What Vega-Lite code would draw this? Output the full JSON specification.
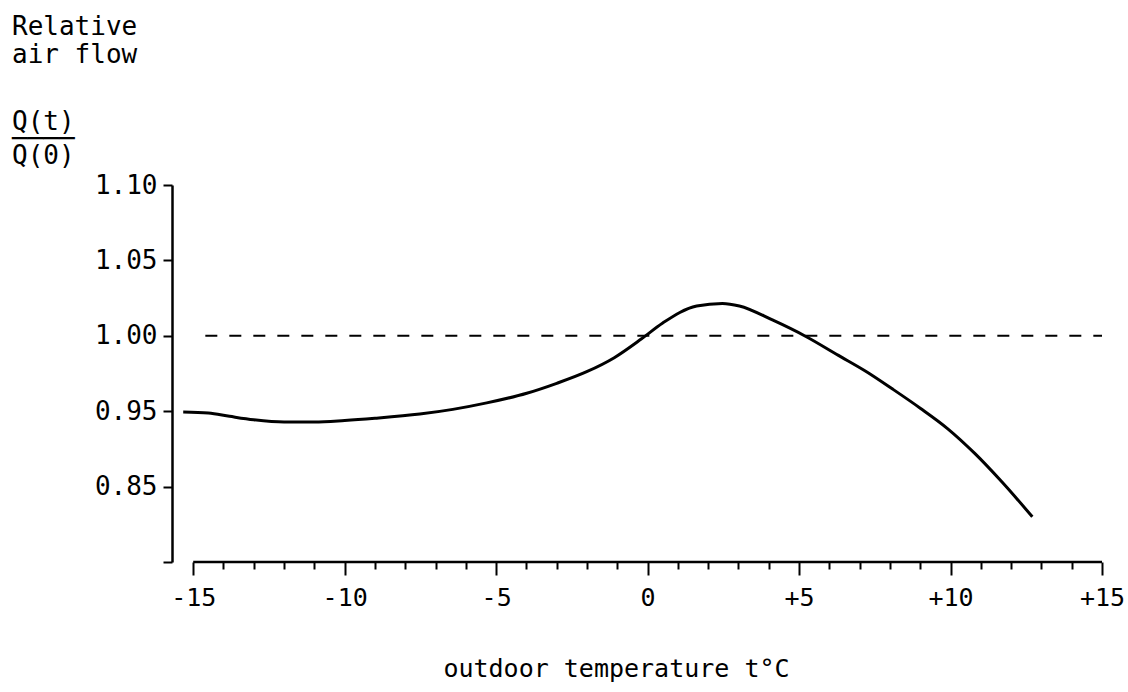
{
  "$schema": "https://vega.github.io/schema/vega-lite/v6.json",
  "width": 930,
  "height": 377,
  "autosize": {"type": "none"},
  "padding": {"left": 172, "top": 185, "right": 26, "bottom": 130},
  "background": "white",
  "config": {"view": {"stroke": null}, "font": "DejaVu Sans Mono"},
  "title": {
    "text": ["Relative", "air flow"],
    "subtitle": ["Q(t)", "────", "Q(0)"],
    "anchor": "start",
    "frame": "group",
    "orient": "top",
    "dx": -160,
    "font": "DejaVu Sans Mono",
    "fontSize": 26,
    "fontWeight": "normal",
    "lineHeight": 28,
    "color": "black",
    "subtitleFont": "DejaVu Sans Mono",
    "subtitleFontSize": 26,
    "subtitleColor": "black",
    "subtitleLineHeight": 17,
    "subtitlePadding": 41,
    "offset": 3
  },
  "datasets": {
    "curve": [
      {"t": -15.33, "q": 0.9495},
      {"t": -14.5, "q": 0.9488},
      {"t": -13.8, "q": 0.9466},
      {"t": -13.0, "q": 0.9443},
      {"t": -12.0, "q": 0.9428},
      {"t": -11.0, "q": 0.9428},
      {"t": -10.0, "q": 0.9438},
      {"t": -9.0, "q": 0.9453},
      {"t": -7.52, "q": 0.9481},
      {"t": -6.43, "q": 0.9512},
      {"t": -5.31, "q": 0.9555},
      {"t": -3.99, "q": 0.9619},
      {"t": -3.0, "q": 0.9685},
      {"t": -2.01, "q": 0.9762},
      {"t": -1.1, "q": 0.9855},
      {"t": -0.2, "q": 0.998},
      {"t": 0.5, "q": 1.0085},
      {"t": 1.62, "q": 1.0198},
      {"t": 2.47, "q": 1.0215},
      {"t": 3.03, "q": 1.0198},
      {"t": 4.12, "q": 1.0105},
      {"t": 5.24, "q": 0.9994},
      {"t": 6.3, "q": 0.987},
      {"t": 7.2, "q": 0.9765},
      {"t": 8.1, "q": 0.9645},
      {"t": 9.0, "q": 0.952},
      {"t": 9.9, "q": 0.9385},
      {"t": 10.8, "q": 0.922},
      {"t": 11.7, "q": 0.903},
      {"t": 12.7, "q": 0.88}
    ],
    "refline": [{"t": -14.6, "t2": 15, "q": 1.0}],
    "xaxis": [{"t": -15, "t2": 15, "q": 0.85}]
  },
  "layer": [
    {
      "data": {"name": "curve"},
      "mark": {"type": "line", "color": "black", "strokeWidth": 3, "interpolate": "monotone"},
      "encoding": {
        "x": {
          "field": "t",
          "type": "quantitative",
          "scale": {"domain": [-15.7, 15], "nice": false, "zero": false},
          "axis": {
            "values": [-15,-14,-13,-12,-11,-10,-9,-8,-7,-6,-5,-4,-3,-2,-1,0,1,2,3,4,5,6,7,8,9,10,11,12,13,14,15],
            "tickCount": 100,
            "domain": false,
            "grid": false,
            "labelExpr": "datum.value % 5 === 0 ? (datum.value > 0 ? '+' + datum.value : '' + datum.value) : ''",
            "tickColor": "black",
            "tickWidth": 2,
            "tickSize": {"condition": {"test": "datum.value % 5 === 0", "value": 13}, "value": 7},
            "labelFont": "DejaVu Sans Mono",
            "labelFontSize": 25,
            "labelColor": "black",
            "labelPadding": 10,
            "labelFlush": false,
            "labelOverlap": false,
            "title": "outdoor temperature t°C",
            "titleFont": "DejaVu Sans Mono",
            "titleFontSize": 25,
            "titleFontWeight": "normal",
            "titleColor": "black",
            "titleX": 444,
            "titleY": 114,
            "titleBaseline": "alphabetic",
            "titleAlign": "center"
          }
        },
        "y": {
          "field": "q",
          "type": "quantitative",
          "scale": {"domain": [0.85, 1.10], "nice": false, "zero": false},
          "axis": {
            "values": [0.85, 0.9, 0.95, 1.0, 1.05, 1.1],
            "labelExpr": "datum.value < 0.86 ? '' : (abs(datum.value - 0.9) < 0.001 ? '0.85' : format(datum.value, '.2f'))",
            "grid": false,
            "domainColor": "black",
            "domainWidth": 2.5,
            "tickColor": "black",
            "tickWidth": 2,
            "tickSize": 9,
            "labelFont": "DejaVu Sans Mono",
            "labelFontSize": 26,
            "labelColor": "black",
            "labelPadding": 6,
            "title": null
          }
        }
      }
    },
    {
      "data": {"name": "refline"},
      "mark": {"type": "rule", "color": "black", "strokeWidth": 2, "strokeDash": [12, 12]},
      "encoding": {
        "x": {"field": "t", "type": "quantitative"},
        "x2": {"field": "t2"},
        "y": {"field": "q", "type": "quantitative"}
      }
    },
    {
      "data": {"name": "xaxis"},
      "mark": {"type": "rule", "color": "black", "strokeWidth": 2.5},
      "encoding": {
        "x": {"field": "t", "type": "quantitative"},
        "x2": {"field": "t2"},
        "y": {"field": "q", "type": "quantitative"}
      }
    }
  ]
}
